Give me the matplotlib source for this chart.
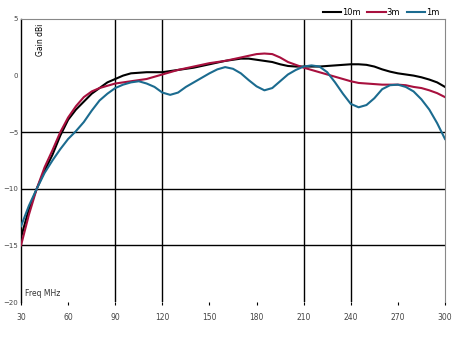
import matplotlib
matplotlib.use("Agg")
import matplotlib.pyplot as plt

# Frecuencias (MHz) y ganancia (dBi)
freq = [30, 35, 40, 45, 50, 55, 60, 65, 70, 75, 80, 85, 90, 95, 100, 105, 110, 115,
        120, 125, 130, 135, 140, 145, 150, 155, 160, 165, 170, 175, 180, 185, 190,
        195, 200, 205, 210, 215, 220, 225, 230, 235, 240, 245, 250, 255, 260, 265,
        270, 275, 280, 285, 290, 295, 300]

gain_10m = [-14.3, -11.8, -10.0, -8.4, -7.0, -5.3, -3.9, -3.0, -2.3, -1.6, -1.1, -0.6, -0.3,
            0.0, 0.2, 0.25, 0.3, 0.3, 0.3, 0.4, 0.5, 0.6, 0.7, 0.85, 1.0, 1.15, 1.3,
            1.4, 1.5, 1.5, 1.4, 1.3, 1.2, 1.0, 0.85, 0.8, 0.8, 0.8, 0.8, 0.85, 0.9,
            0.95, 1.0, 1.0, 0.95, 0.8, 0.55, 0.35, 0.2, 0.1, 0.0, -0.15, -0.35, -0.6, -1.0]

gain_3m = [-15.0, -12.3, -10.0, -8.1, -6.6, -5.0, -3.7, -2.7, -1.9, -1.4, -1.1, -0.9, -0.7,
           -0.6, -0.5, -0.4, -0.3, -0.1, 0.1, 0.3, 0.5, 0.65, 0.8, 0.95, 1.1, 1.2, 1.3,
           1.45, 1.6, 1.75, 1.9, 1.95, 1.9, 1.6, 1.2, 0.95, 0.7, 0.5, 0.3, 0.1, -0.1,
           -0.3, -0.5, -0.65, -0.7, -0.75, -0.8, -0.8, -0.8, -0.85, -1.0, -1.1, -1.3, -1.55, -1.9]

gain_1m = [-13.3, -11.5, -10.0, -8.6, -7.5, -6.5, -5.6, -4.9, -4.1, -3.1, -2.2, -1.6, -1.1,
           -0.8, -0.6, -0.5, -0.7, -1.0, -1.5, -1.7, -1.5, -1.0, -0.6, -0.2, 0.2, 0.55, 0.75,
           0.6, 0.2, -0.4, -0.95, -1.3, -1.1, -0.5, 0.1, 0.5, 0.8, 0.9, 0.8, 0.3, -0.6,
           -1.6, -2.5, -2.8, -2.6, -2.0, -1.2, -0.85, -0.8, -1.0, -1.4, -2.1, -3.0, -4.2, -5.6]

x_ticks = [30, 60, 90, 120, 150, 180, 210, 240, 270, 300]
y_ticks = [5, 0, -5, -10, -15, -20]
grid_x = [90, 120, 210, 240]
grid_y = [-5, -10, -15]

fig = plt.figure(figsize=(4.63, 3.38), dpi=100)
ax = fig.add_axes([0.0454, 0.1065, 0.9157, 0.8373])

for gx in grid_x:
    ax.axvline(gx, color="black", lw=1.0, zorder=1)
for gy in grid_y:
    ax.axhline(gy, color="black", lw=1.0, zorder=1)

ax.plot(freq, gain_10m, color="black", lw=1.5, label="10m", zorder=3)
ax.plot(freq, gain_3m, color="#a8103e", lw=1.5, label="3m", zorder=3)
ax.plot(freq, gain_1m, color="#1b6b8f", lw=1.5, label="1m", zorder=3)

ax.set_xlim(30, 300)
ax.set_ylim(-20, 5)
ax.set_xticks(x_ticks)
ax.set_yticks(y_ticks)
ax.tick_params(axis="y", labelsize=5, labelcolor="#444444", length=0, pad=2)
ax.tick_params(axis="x", labelsize=5.5, labelcolor="#444444", length=2,
               color="black", pad=6)

ax.spines["left"].set_color("black")
ax.spines["left"].set_linewidth(1.0)
ax.spines["bottom"].set_visible(False)
ax.spines["top"].set_color("#888888")
ax.spines["right"].set_color("#888888")
ax.spines["top"].set_linewidth(0.8)
ax.spines["right"].set_linewidth(0.8)

ax.text(0.035, 0.985, "Gain dBi", transform=ax.transAxes, rotation=90,
        fontsize=5.5, ha="left", va="top", color="black")
ax.text(0.01, 0.015, "Freq MHz", transform=ax.transAxes,
        fontsize=5.5, ha="left", va="bottom", color="#333333")

ax.legend(loc="lower right", bbox_to_anchor=(0.99, 1.0), ncol=3, frameon=False,
          fontsize=6, handlelength=2.2, handletextpad=0.1, columnspacing=0.8,
          borderaxespad=0.0, borderpad=0.2)

fig.savefig("out.png", dpi=100)
